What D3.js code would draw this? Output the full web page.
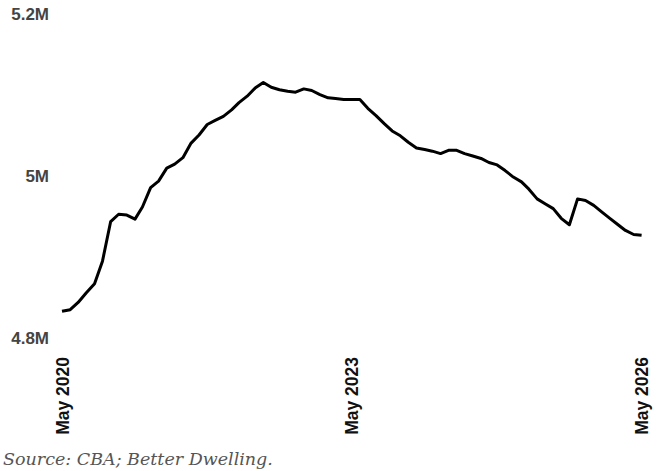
<!DOCTYPE html>
<html>
  <head>
    <meta charset="utf-8">
    <title>households</title>
    <style>
      body { margin: 0; background: #fff; }
      .axis path, .axis line { display: none; }
      .y-axis text { font-family: "Liberation Sans", Arial, sans-serif; font-size: 17px; font-weight: bold; fill: #444; }
      .x-axis text { font-family: "Liberation Sans", Arial, sans-serif; font-size: 17.5px; font-weight: bold; fill: #111; }
      .source { font-family: "DejaVu Serif", serif; font-style: italic; font-size: 17.5px; fill: #555; }
    </style>
  </head>
  <body>
    <script src="https://cdn.jsdelivr.net/npm/d3@7"></script>
    <script>
    var width = 670;
    var height = 471;

    // monthly series, May 2020 .. May 2026 (millions)
    var startMonth = new Date(2020, 4, 1);
    var values = [
      4.833, 4.835, 4.844, 4.856, 4.867, 4.895, 4.944, 4.953, 4.952, 4.947,
      4.962, 4.986, 4.994, 5.010, 5.015, 5.023, 5.041, 5.051, 5.064, 5.069,
      5.074, 5.082, 5.091, 5.099, 5.109, 5.116, 5.110, 5.107, 5.105, 5.104,
      5.108, 5.106, 5.101, 5.097, 5.096, 5.095, 5.095, 5.095, 5.084, 5.075,
      5.065, 5.056, 5.050, 5.042, 5.035, 5.033, 5.031, 5.028, 5.032, 5.032,
      5.028, 5.025, 5.022, 5.017, 5.014, 5.007, 4.999, 4.993, 4.984, 4.972,
      4.966, 4.960, 4.948, 4.940, 4.972, 4.970, 4.964, 4.956, 4.948, 4.940,
      4.933, 4.928, 4.927
    ];
    var yTicks = [4.8, 5.0, 5.2];
    var yTickLabels = ["4.8M", "5M", "5.2M"];
    var xTicks = [new Date(2020, 4, 1), new Date(2023, 4, 1), new Date(2026, 4, 1)];
    var source = "Source: CBA; Better Dwelling.";

    var data = values.map(function(v, i) {
      return { date: d3.timeMonth.offset(startMonth, i), value: v };
    });

    var svg = d3.select('body')
      .append('svg')
      .attr('width', width).attr('height', height);

    var xScale = d3.scaleTime()
      .domain([xTicks[0], xTicks[2]])
      .range([62, 641.6]);

    var yScale = d3.scaleLinear()
      .domain([4.8, 5.2])
      .range([338, 14.5]);

    var yAxis = d3.axisLeft(yScale)
      .tickValues(yTicks)
      .tickSize(0)
      .tickPadding(0)
      .tickFormat(function(d, i) { return yTickLabels[i]; });

    svg.append('g')
      .attr('class', 'axis y-axis')
      .attr('transform', 'translate(49,0)')
      .call(yAxis);

    var xAxis = d3.axisBottom(xScale)
      .tickValues(xTicks)
      .tickSize(0)
      .tickFormat(d3.timeFormat('%b %Y'));

    svg.append('g')
      .attr('class', 'axis x-axis')
      .attr('transform', 'translate(0,357)')
      .call(xAxis)
      .selectAll('text')
      .attr('text-anchor', 'end')
      .attr('transform', 'rotate(-90)')
      .attr('x', 0)
      .attr('y', 0)
      .attr('dx', 0)
      .attr('dy', '0.35em');

    var line = d3.line()
      .x(function(d) { return xScale(d.date); })
      .y(function(d) { return yScale(d.value); });

    svg.append('path')
      .datum(data)
      .attr('d', line)
      .attr('fill', 'none')
      .attr('stroke', '#000')
      .attr('stroke-width', 3)
      .attr('stroke-linejoin', 'round');

    svg.append('text')
      .attr('class', 'source')
      .attr('x', 3)
      .attr('y', 465)
      .text(source);
    </script>
  </body>
</html>
